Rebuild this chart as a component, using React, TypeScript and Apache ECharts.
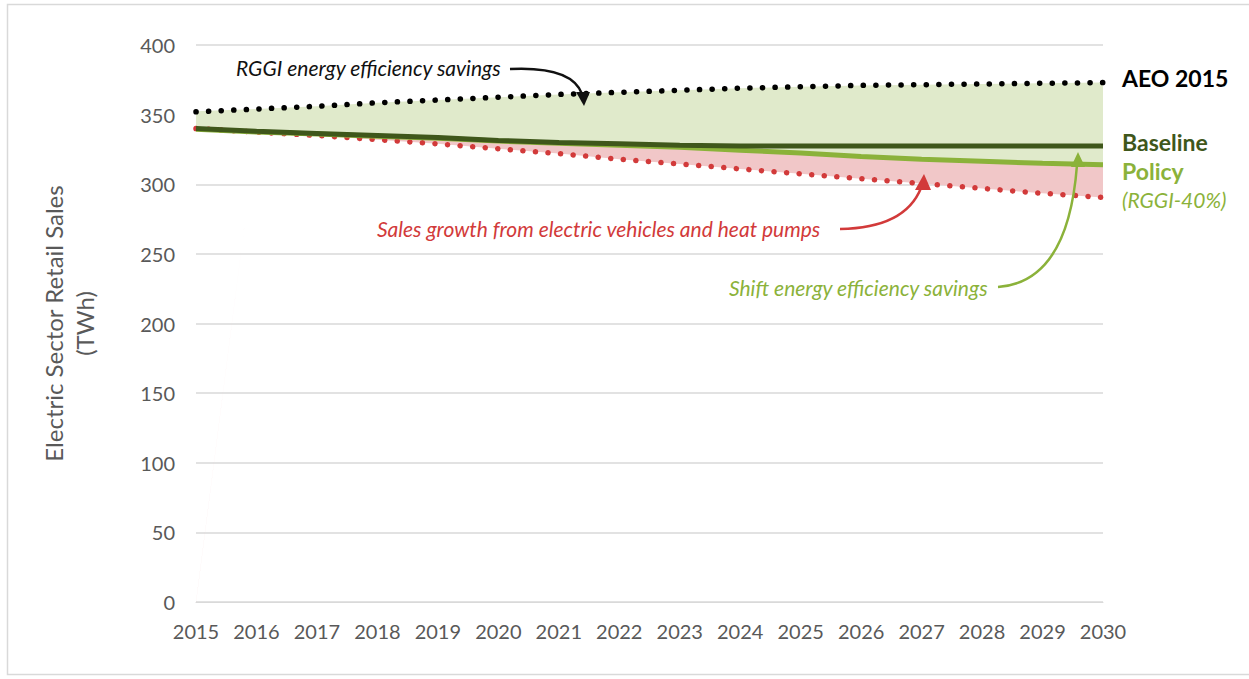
import React, { useEffect, useRef } from "react";
import * as echarts from "echarts";

const years = ["2015","2016","2017","2018","2019","2020","2021","2022","2023","2024","2025","2026","2027","2028","2029","2030"];
const aeo2015 = [352, 354, 356, 358.5, 360.5, 362.5, 364.5, 366, 367.5, 369, 370, 371, 371.5, 372, 372.5, 373];
const baseline = [340, 338, 336.5, 335, 333.5, 331.5, 330, 329, 328, 327.5, 327.5, 327.5, 327.5, 327.5, 327.5, 327.5];
const policy = [339.5, 337.5, 336, 334.5, 333, 331, 329.5, 328, 326.5, 324.5, 322.5, 320, 318, 316.5, 315, 314];
const salesGrowth = [340, 337.5, 335, 332, 329, 325.5, 322, 318, 314.5, 311, 307.5, 304, 300.5, 297, 293.5, 290.5];
const yTicks = { min: 0, max: 400, interval: 50 };

const FONT = "Lato, 'Open Sans', sans-serif";
const GRAY = "#595959";
const BLACK_DOT = "#000000";
const RED = "#d23a3a";
const DARK_GREEN = "#3f571b";
const LIGHT_GREEN = "#8bb23a";
const GREEN_FILL = "#e0eacb";
const PINK_FILL = "#f1c7c8";

export default function App() {
  const ref = useRef<HTMLDivElement>(null);
  useEffect(() => {
    document.body.style.margin = "0";
    const chart = echarts.init(ref.current!, null, { renderer: "svg" });
    const pinkDiff = policy.map((v, i) => v - salesGrowth[i]);
    const greenDiff = aeo2015.map((v, i) => v - policy[i]);
    const dotted = (color: string) => ({
      color,
      width: 5.5,
      type: [0.1, 12.5] as any,
      cap: "round" as const,
    });
    const Z = 100;
    chart.setOption({
      animation: false,
      grid: { left: 196, right: 146, top: 45, bottom: 77 },
      xAxis: {
        type: "category",
        data: years,
        boundaryGap: false,
        axisLine: { show: true, lineStyle: { color: "#d9d9d9" } },
        axisTick: { show: false },
        axisLabel: { color: GRAY, fontSize: 20, fontFamily: FONT, margin: 19 },
        splitLine: { show: false },
      },
      yAxis: {
        type: "value",
        min: yTicks.min,
        max: yTicks.max,
        interval: yTicks.interval,
        name: "Electric Sector Retail Sales\n(TWh)",
        nameLocation: "middle",
        nameGap: 96,
        nameTextStyle: { color: GRAY, fontSize: 24, fontFamily: FONT, lineHeight: 31 },
        axisLine: { show: false },
        axisTick: { show: false },
        axisLabel: { color: GRAY, fontSize: 20, fontFamily: FONT, margin: 21 },
        splitLine: { lineStyle: { color: "#d9d9d9", width: 1.5 } },
      },
      series: [
        {
          name: "base", type: "line", stack: "f", data: salesGrowth, symbol: "none", silent: true,
          lineStyle: { width: 0, opacity: 0 }, areaStyle: { opacity: 0 },
        },
        {
          name: "pink", type: "line", stack: "f", data: pinkDiff, symbol: "none", silent: true,
          lineStyle: { width: 0, opacity: 0 }, areaStyle: { color: PINK_FILL, opacity: 1 },
        },
        {
          name: "green", type: "line", stack: "f", data: greenDiff, symbol: "none", silent: true,
          lineStyle: { width: 0, opacity: 0 }, areaStyle: { color: GREEN_FILL, opacity: 1 },
        },
        {
          name: "Sales growth", type: "line", data: salesGrowth, symbol: "none",
          lineStyle: dotted(RED),
        },
        {
          name: "AEO 2015", type: "line", data: aeo2015, symbol: "none",
          lineStyle: dotted(BLACK_DOT),
        },
        {
          name: "Policy", type: "line", data: policy, symbol: "none",
          lineStyle: { color: LIGHT_GREEN, width: 5 },
        },
        {
          name: "Baseline", type: "line", data: baseline, symbol: "none",
          lineStyle: { color: DARK_GREEN, width: 5 },
        },
      ],
      graphic: [
        {
          type: "rect", silent: true, z: Z,
          shape: { x: 7.5, y: 4.5, width: 1250, height: 670 },
          style: { fill: "none", stroke: "#d9d9d9", lineWidth: 1.5 },
        },
        // right labels
        { type: "text", z: Z, x: 1122, y: 78, style: { text: "AEO 2015", fill: "#000", font: `bold 23px ${FONT}`, verticalAlign: "middle" } },
        { type: "text", z: Z, x: 1122, y: 142, style: { text: "Baseline", fill: DARK_GREEN, font: `bold 23px ${FONT}`, verticalAlign: "middle" } },
        { type: "text", z: Z, x: 1122, y: 171, style: { text: "Policy", fill: LIGHT_GREEN, font: `bold 23px ${FONT}`, verticalAlign: "middle" } },
        { type: "text", z: Z, x: 1122, y: 199, style: { text: "(RGGI-40%)", fill: LIGHT_GREEN, font: `italic 21px ${FONT}`, verticalAlign: "middle" } },
        // annotations
        { type: "text", z: Z, x: 236, y: 67, style: { text: "RGGI energy efficiency savings", fill: "#111", font: `italic 21px ${FONT}`, verticalAlign: "middle" } },
        { type: "bezierCurve", z: Z, shape: { x1: 510, y1: 69, cpx1: 572, cpy1: 66, x2: 582, y2: 94 }, style: { stroke: "#111", lineWidth: 2.5, fill: "none" } },
        { type: "polygon", z: Z, shape: { points: [[584, 106], [576, 92], [590, 92]] }, style: { fill: "#111" } },

        { type: "text", z: Z, x: 377, y: 228, style: { text: "Sales growth from electric vehicles and heat pumps", fill: RED, font: `italic 21px ${FONT}`, verticalAlign: "middle" } },
        { type: "bezierCurve", z: Z, shape: { x1: 840, y1: 229, cpx1: 905, cpy1: 228, x2: 921, y2: 188 }, style: { stroke: RED, lineWidth: 2.5, fill: "none" } },
        { type: "polygon", z: Z, shape: { points: [[924, 174], [915, 190], [931, 190]] }, style: { fill: RED } },

        { type: "text", z: Z, x: 729, y: 287, style: { text: "Shift energy efficiency savings", fill: LIGHT_GREEN, font: `italic 21px ${FONT}`, verticalAlign: "middle" } },
        { type: "bezierCurve", z: Z, shape: { x1: 998, y1: 287, cpx1: 1068, cpy1: 282, x2: 1077, y2: 165 }, style: { stroke: LIGHT_GREEN, lineWidth: 2.5, fill: "none" } },
        { type: "polygon", z: Z, shape: { points: [[1078, 152], [1071, 167], [1085, 167]] }, style: { fill: LIGHT_GREEN } },
      ],
    });
    return () => chart.dispose();
  }, []);
  return <div ref={ref} style={{ width: 1249, height: 679 }} />;
}
